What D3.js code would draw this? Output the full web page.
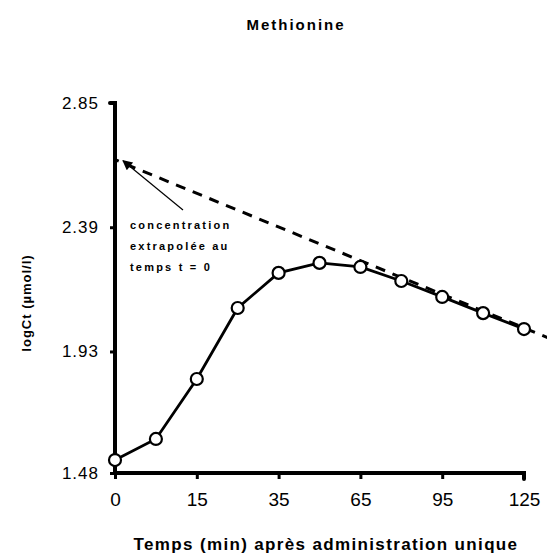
<!DOCTYPE html>
<html><head><meta charset="utf-8">
<script src="https://cdn.jsdelivr.net/npm/d3@7"></script>
<style>body{margin:0;background:#fff}svg{display:block}text{font-family:Arial,"Liberation Sans",sans-serif;fill:#000}</style>
</head><body><svg id="c" width="547" height="558"></svg>
<script>
// sampling times (min) — every point is one category
const times = ["0","7","15","25","35","50","65","80","95","110","125"];
const logCt = [1.528, 1.606, 1.828, 2.091, 2.221, 2.258, 2.243, 2.191, 2.132, 2.072, 2.013];
const xTickLabels = ["0","15","35","65","95","125"];
const yTicks = [1.48, 1.93, 2.39, 2.85];
// extrapolated elimination line (category index, logCt)
const extrapIdx = [0, 10.6];
const extrapVal = [2.64, 1.98];
const annotation = ["concentration","extrapolée au","temps t = 0"];

const svg = d3.select("#c");
const x = d3.scaleLinear().domain([0, times.length-1]).range([115, 524]);
const y = d3.scaleLinear().domain([1.48, 2.85]).range([473, 103]);

svg.append("text").attr("x",296).attr("y",30).attr("text-anchor","middle")
  .style("font-size","15px").style("font-weight","bold").style("letter-spacing","2px").text("Methionine");

// y axis
const yAx = svg.append("g").attr("transform","translate(115,0)")
  .call(d3.axisLeft(y).tickValues(yTicks).tickFormat(d3.format(".2f")).tickSize(5).tickPadding(11));
yAx.select(".domain").attr("d", `M-5,${y(2.85)}H0V${y(1.48)}`).attr("stroke-width",4).attr("stroke-linecap","round");
yAx.selectAll(".tick line").attr("stroke-width",3);
yAx.selectAll("text").style("font-size","17px").style("letter-spacing","1px").attr("font-family",null);

// x axis
const labelIdx = xTickLabels.map(l => times.indexOf(l));
const xAx = svg.append("g").attr("transform","translate(0,473)")
  .call(d3.axisBottom(x).tickValues(labelIdx).tickFormat(i => times[i]).tickSize(6).tickPadding(14));
xAx.select(".domain").attr("d", `M${x(0)},0H${x(10)}V6`).attr("stroke-width",4).attr("stroke-linecap","round");
xAx.selectAll(".tick line").attr("stroke-width",3);
xAx.selectAll("text").style("font-size","19px").attr("font-family",null);

svg.append("text").attr("x",326).attr("y",550).attr("text-anchor","middle")
  .style("font-size","17px").style("font-weight","bold").style("letter-spacing","1.35px")
  .text("Temps (min) après administration unique");
svg.append("text").attr("transform","translate(31,303) rotate(-90)").attr("text-anchor","middle")
  .style("font-size","13px").style("font-weight","bold").style("letter-spacing","1px")
  .text("logCt (µmol/l)");

// extrapolated dashed line
svg.append("line").attr("x1",x(extrapIdx[0])).attr("y1",y(extrapVal[0]))
  .attr("x2",x(extrapIdx[1])).attr("y2",y(extrapVal[1]))
  .attr("stroke","#000").attr("stroke-width",3).attr("stroke-dasharray","10,8").attr("stroke-dashoffset",-30);

// data line
const pts = logCt.map((v,i)=>[x(i),y(v)]);
svg.append("path").attr("d", d3.line()(pts)).attr("fill","none").attr("stroke","#000").attr("stroke-width",2.8);
svg.selectAll("circle.p").data(pts).join("circle").attr("class","p")
  .attr("cx",d=>d[0]).attr("cy",d=>d[1]).attr("r",6).attr("fill","#fff").attr("stroke","#000").attr("stroke-width",2.2);

// annotation arrow
svg.append("defs").append("marker").attr("id","ah").attr("viewBox","0 0 10 10").attr("refX",9).attr("refY",5)
  .attr("markerWidth",12).attr("markerHeight",10).attr("markerUnits","userSpaceOnUse").attr("orient","auto")
  .append("path").attr("d","M0,0L10,5L0,10z").attr("fill","#000");
svg.append("line").attr("x1",183).attr("y1",210).attr("x2",x(0)+8).attr("y2",y(extrapVal[0])+1)
  .attr("stroke","#000").attr("stroke-width",1.2).attr("marker-end","url(#ah)");
svg.append("g").selectAll("text").data(annotation).join("text")
  .attr("x",130).attr("y",(d,i)=>229+i*21).style("font-size","11px").style("font-weight","bold")
  .style("letter-spacing","2.2px").text(d=>d);
</script></body></html>
